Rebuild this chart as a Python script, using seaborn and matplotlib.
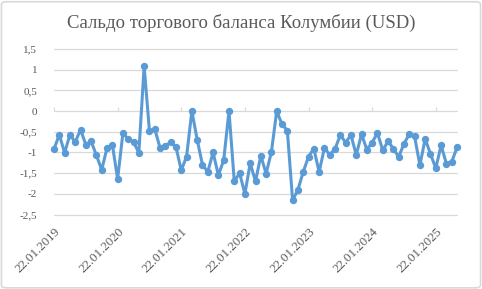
import numpy as np
import pandas as pd
import matplotlib
matplotlib.use("Agg")
import matplotlib.pyplot as plt
from matplotlib.patches import FancyBboxPatch
import seaborn as sns

title = "Сальдо торгового баланса Колумбии (USD)"
values = [
    -0.92, -0.57, -1.01, -0.57, -0.75, -0.45, -0.81, -0.73, -1.07, -1.42, -0.89, -0.81,
    -1.64, -0.53, -0.68, -0.75, -1.01, 1.08, -0.48, -0.43, -0.89, -0.84, -0.75, -0.87,
    -1.43, -1.10, 0.00, -0.69, -1.30, -1.47, -1.00, -1.55, -1.19, 0.00, -1.70, -1.50,
    -2.00, -1.26, -1.70, -1.08, -1.51, -0.99, 0.00, -0.32, -0.47, -2.16, -1.90, -1.47,
    -1.10, -0.91, -1.47, -0.89, -1.06, -0.91, -0.58, -0.76, -0.58, -1.06, -0.56, -0.93,
    -0.76, -0.53, -0.95, -0.73, -0.91, -1.11, -0.79, -0.56, -0.61, -1.31, -0.67, -1.04,
    -1.38, -0.83, -1.27, -1.23, -0.88,
]
dates = [d.strftime("%d.%m.%Y") for d in
         pd.date_range("2019-01-01", periods=len(values), freq="MS") + pd.Timedelta(days=21)]
label_step = 12
y_ticks = [1.5, 1, 0.5, 0, -0.5, -1, -1.5, -2, -2.5]
y_ticklabels = ["1,5", "1", "0,5", "0", "-0,5", "-1", "-1,5", "-2", "-2,5"]

df = pd.DataFrame({"pos": np.arange(len(values)), "date": dates, "value": values})

sns.set_theme(style="white")
plt.rcParams["font.family"] = ["Liberation Serif", "DejaVu Serif"]

fig = plt.figure(figsize=(4.82, 2.89), dpi=100)
ax = fig.add_axes([54 / 482, 1 - 214.5 / 289, (457 - 54) / 482, (214.5 - 49) / 289])

grid_c = "#d9d9d9"
text_c = "#595959"
line_c = "#5b9bd5"

for y in y_ticks:
    ax.axhline(y, color=grid_c, lw=0.9, zorder=0)

sns.lineplot(data=df, x="pos", y="value", ax=ax, color=line_c, lw=2.2,
             marker="o", markersize=5.3, markeredgewidth=0, zorder=3)
for ln in ax.lines:
    ln.set_clip_on(False)

ax.set_xlim(0, len(values) - 1)
ax.set_ylim(-2.5, 1.5)
ax.set_yticks(y_ticks)
ax.set_yticklabels(y_ticklabels, fontsize=8, color=text_c)
ax.tick_params(axis="y", length=0, pad=12)

tick_pos = list(range(0, len(values), label_step))
ax.set_xticks(tick_pos)
ax.set_xticklabels([dates[i] for i in tick_pos], rotation=45, ha="right",
                   rotation_mode="anchor", fontsize=9.3, color=text_c)
ax.tick_params(axis="x", length=0, pad=8)
for s in ax.spines.values():
    s.set_visible(False)
ax.set_xlabel("")
ax.set_ylabel("")

sec = ax.secondary_xaxis((0 + 2.5) / 4.0)
sec.set_xticks(tick_pos)
sec.set_xticklabels([])
sec.tick_params(axis="x", length=3, width=0.8, color=grid_c, direction="out")
sec.spines["bottom"].set_color(grid_c)
sec.spines["bottom"].set_linewidth(0.9)
for k in ["top", "left", "right"]:
    sec.spines[k].set_visible(False)

fig.text(0.5, 1 - 23 / 289, title, ha="center", va="center", fontsize=13.5, color=text_c)

fig.patches.append(FancyBboxPatch((0.003, 0.004), 0.994, 0.99, boxstyle="round,pad=0,rounding_size=0.01",
                                  transform=fig.transFigure, fill=False, edgecolor=grid_c, lw=1.2))

fig.savefig("out.png", dpi=100)
